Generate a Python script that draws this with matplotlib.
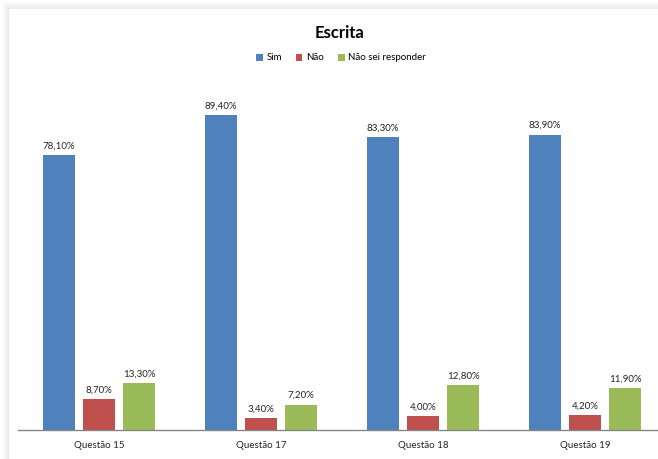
import matplotlib.pyplot as plt
import numpy as np
from matplotlib.patches import Rectangle

categories = ["Questão 15", "Questão 17", "Questão 18", "Questão 19"]
series_names = ["Sim", "Não", "Não sei responder"]
sim = [78.1, 89.4, 83.3, 83.9]
nao = [8.7, 3.4, 4.0, 4.2]
nao_sei = [13.3, 7.2, 12.8, 11.9]
colors = ["#4F81BD", "#C0504D", "#9BBB59"]

plt.rcParams['font.family'] = ['Lato', 'DejaVu Sans']

W, H = 658, 459
fig = plt.figure(figsize=(W / 100, H / 100), dpi=100)
fig.patch.set_facecolor("white")

# soft frame shadow along the top and left of the chart area
bg = fig.add_axes([0, 0, 1, 1], zorder=-10)
bg.set_xlim(0, W)
bg.set_ylim(H, 0)
bg.axis("off")
for i in range(8):
    off = 9 - i
    bg.add_patch(Rectangle((off, off), W + 100, H + 100, facecolor="#808080",
                           alpha=0.025, edgecolor="none"))
bg.add_patch(Rectangle((9, 9), W + 100, H + 100, facecolor="white", edgecolor="none"))

# plot area: baseline at y=430 px, group spacing 162 px starting at x=18
left_px, right_px = 18, 18 + 4 * 162
bottom_px, top_px = 430, 78
ax = fig.add_axes([left_px / W, (H - bottom_px) / H,
                   (right_px - left_px) / W, (bottom_px - top_px) / H])
ax.set_facecolor("none")
ax.set_xlim(0, 4)
ax.set_ylim(0, 100)

x = np.arange(len(categories)) + 0.5
width = 32 / 162
offset = 40 / 162
for k, (vals, c) in enumerate(zip([sim, nao, nao_sei], colors)):
    pos = x + (k - 1) * offset
    bars = ax.bar(pos, vals, width=width, color=c, label=series_names[k], zorder=2)
    for b, v in zip(bars, vals):
        ax.text(b.get_x() + b.get_width() / 2, v + 1.3, f"{v:.2f}%".replace(".", ","),
                ha="center", va="bottom", fontsize=7, color="#222222")

for s in ["top", "right", "left"]:
    ax.spines[s].set_visible(False)
ax.spines["bottom"].set_color("#868686")
ax.spines["bottom"].set_linewidth(1.0)
ax.set_yticks([])
ax.set_xticks(x)
ax.set_xticklabels(categories, fontsize=7, color="#222222")
ax.tick_params(axis="x", length=0, pad=8)

fig.text(339 / W, 1 - 33 / H, "Escrita", ha="center", va="center",
         fontsize=12, fontweight="bold", color="black")

leg = fig.legend(loc="center", bbox_to_anchor=(341 / W, 1 - 58 / H), ncol=3,
                 frameon=False, fontsize=7, handlelength=0.7, handleheight=0.7,
                 handletextpad=0.4, columnspacing=1.4)

fig.savefig("out.png", dpi=100)
